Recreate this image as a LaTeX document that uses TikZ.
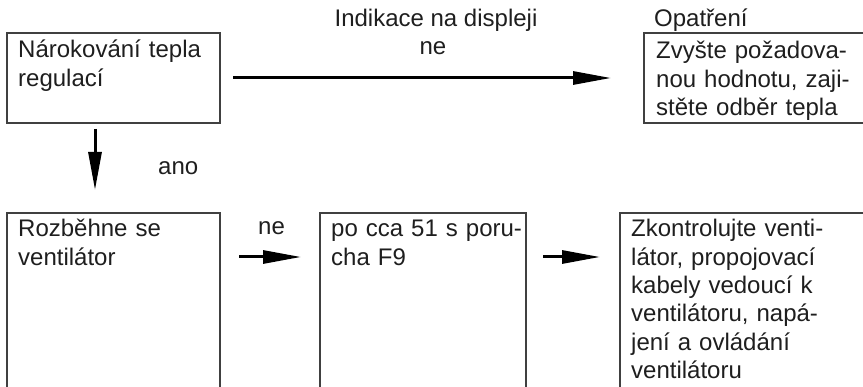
\documentclass[tikz,border=0pt]{standalone}
\usepackage{fontspec}
\setmainfont{Liberation Sans}
\usetikzlibrary{arrows.meta,calc}
\definecolor{txt}{HTML}{1E1E1E}
\definecolor{frame}{HTML}{404040}
\tikzset{
  box/.style={draw=frame,line width=1.3pt,rectangle,inner sep=0pt,outer sep=0pt,anchor=north west},
  boxtext/.style={anchor=base west,inner sep=0pt,text width=220pt,align=left,text=txt,
    font=\fontsize{24}{28.3}\selectfont},
  lbl/.style={inner sep=0pt,text=txt,font=\fontsize{24}{28.3}\selectfont},
  arr/.style={line width=3pt,-{Triangle[length=38pt,width=13pt]},black}
}
\begin{document}
\begin{tikzpicture}[x=1pt,y=-1pt]
\useasboundingbox (0,0) rectangle (863,387);
\clip (0,0) rectangle (863,387);
% boxes
\node[box,minimum width=213pt,minimum height=90pt] (A) at (7,33) {};
\node[box,minimum width=240pt,minimum height=90pt] (B) at (644,33) {};
\node[box,minimum width=213pt,minimum height=200pt] (C) at (7,213) {};
\node[box,minimum width=206pt,minimum height=200pt] (D) at (320,213) {};
\node[box,minimum width=260pt,minimum height=200pt] (E) at (620,213) {};
% box texts
\node[boxtext] (tA) at (18,58) {Nárokování tepla\\regulací};
\node[boxtext] (tB) at (656,59) {Zvyšte požadova-\\nou hodnotu, zaji-\\stěte odběr tepla};
\node[boxtext] (tC) at (18,237) {Rozběhne se\\ventilátor};
\node[boxtext] (tD) at (331,237) {po cca 51 s poru-\\cha F9};
\node[boxtext] (tE) at (631,237) {Zkontrolujte venti-\\látor, propojovací\\kabely vedoucí k\\ventilátoru, napá-\\jení a ovládání\\ventilátoru};
% labels
\node[lbl,anchor=base] (hdr) at (436,27) {Indikace na displeji};
\node[lbl,anchor=base] (ne1) at (433,55) {ne};
\node[lbl,anchor=base west] (opt) at (654,27) {Opatření};
\node[lbl,anchor=base west] (ano) at (158,175) {ano};
\node[lbl,anchor=base west] (ne2) at (258,235) {ne};
% connectors
\draw[arr,shorten <=13pt,shorten >=33pt] (A.east) -- (A.east -| B.west);
\draw[arr,shorten <=6pt,shorten >=23pt] ($(A.south west)+(88,0)$) -- ($(C.north west)+(88,0)$);
\draw[arr,shorten <=19pt,shorten >=19pt] ($(C.north east)+(0,44)$) -- ($(D.north west)+(0,44)$);
\draw[arr,shorten <=17pt,shorten >=20pt] ($(D.north east)+(0,44)$) -- ($(E.north west)+(0,44)$);
\end{tikzpicture}
\end{document}
